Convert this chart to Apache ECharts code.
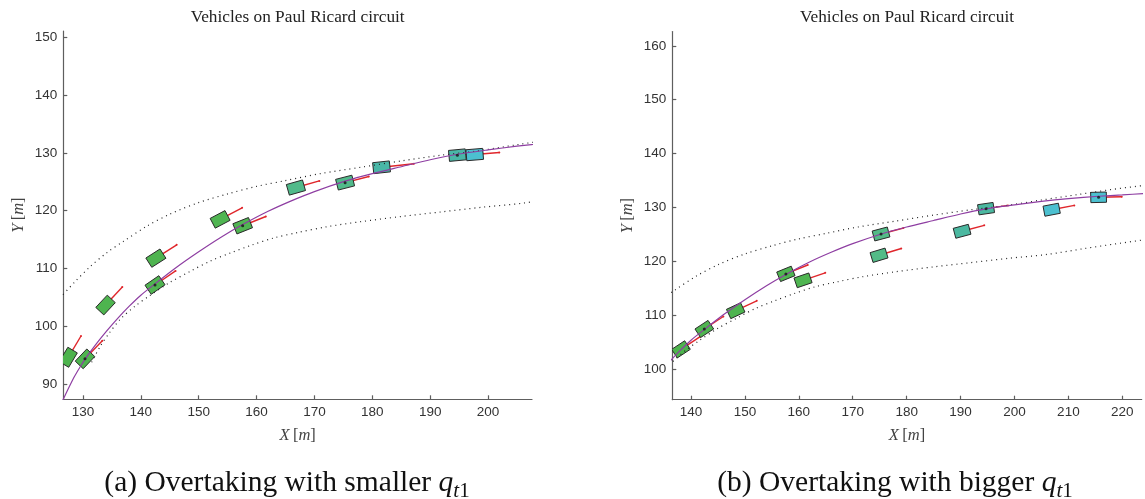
<!DOCTYPE html>
<html>
<head>
<meta charset="utf-8">
<script src="https://cdn.jsdelivr.net/npm/echarts@6/dist/echarts.min.js"></script>
<style>
  html, body { margin: 0; padding: 0; background: #ffffff; }
  #chart { width: 1145px; height: 499px; }
</style>
</head>
<body>
<div id="chart"></div>
<script>
// ---- Tick labels ----
const leftXTicks = [130, 140, 150, 160, 170, 180, 190, 200];
const leftYTicks = [90, 100, 110, 120, 130, 140, 150];
const rightXTicks = [140, 150, 160, 170, 180, 190, 200, 210, 220];
const rightYTicks = [100, 110, 120, 130, 140, 150, 160];

// ---- Circuit geometry [X, Y] in metres ----
const trackCenter = [
  [126.0, 86.0], [126.6, 87.4], [127.5, 89.3], [128.5, 91.3], [129.5, 93.0], [130.4, 94.4],
  [132, 96.6], [134, 99.1], [136, 101.4], [138, 103.5], [140, 105.4], [142.5, 107.4],
  [146, 110.1], [150, 112.9], [154, 115.5], [157.6, 117.6], [162, 119.9], [166, 121.7],
  [170, 123.3], [175.3, 125.1], [180, 126.4], [185, 127.6], [190, 128.8], [194.7, 129.75],
  [200, 130.5], [205, 131.15], [210, 131.65], [215.6, 132.1], [220, 132.35], [224, 132.6]
];
const trackOuter = [
  [126.0, 104.9], [128.5, 107.6], [131.2, 110.3], [134.2, 112.8], [137, 114.7], [141, 117.3],
  [145, 119.4], [150, 121.4], [155, 122.9], [160, 124.2], [165, 125.2], [171, 126.4],
  [178, 127.5], [185, 128.6], [192, 129.6], [198, 130.3], [205, 131.4], [212, 132.45],
  [218, 133.35], [224, 134.1]
];
const trackInner = [
  [131.5, 93.8], [133, 96.6], [134.5, 98.8], [136.5, 101.3], [139, 103.5], [141.5, 105.3],
  [145, 107.6], [148.5, 109.5], [152, 111.3], [155.5, 112.7], [159, 114.0], [163, 115.3],
  [167, 116.2], [172, 117.2], [178, 118.1], [185, 119.0], [192, 119.8], [199, 120.6],
  [206, 121.3], [213, 122.4], [219, 123.3], [224, 124.0]
];

// ---- Vehicle snapshots: [X, Y, velocity tip X, velocity tip Y, time step] ----
// (a) smaller q_t1
const leftOther = [
  [127.46, 94.67, 129.66, 98.35, 0],
  [133.9, 103.7, 136.8, 106.8, 1],
  [142.6, 111.8, 146.2, 114.1, 2],
  [153.7, 118.5, 157.5, 120.5, 3],
  [166.8, 124.0, 170.85, 125.15, 4],
  [181.6, 127.5, 187.2, 128.1, 5],
  [197.7, 129.7, 201.95, 130.05, 6]
];
const leftEgo = [
  [130.35, 94.4, 133.34, 97.54, 1],
  [142.45, 107.16, 146.0, 109.6, 2],
  [157.6, 117.4, 161.6, 119.0, 3],
  [175.3, 124.85, 179.4, 125.9, 4],
  [194.7, 129.6, 199.0, 130.0, 5]
];
// (b) bigger q_t1
const rightOther = [
  [138.14, 103.7, 141.7, 106.05, 0],
  [148.29, 110.87, 152.2, 112.7, 1],
  [160.78, 116.5, 164.9, 117.9, 2],
  [174.88, 121.15, 179.0, 122.4, 3],
  [190.28, 125.6, 194.4, 126.7, 4],
  [206.9, 129.6, 211.1, 130.4, 5]
];
const rightEgo = [
  [142.47, 107.48, 146.0, 109.8, 1],
  [157.6, 117.7, 161.65, 119.35, 2],
  [175.25, 125.1, 179.4, 126.2, 3],
  [194.73, 129.8, 198.8, 130.4, 4],
  [215.6, 131.9, 219.9, 132.0, 5]
];

// Vehicle footprint (m)
const CAR_LEN = 2.9;
const CAR_WID = 1.9;

// Time colour map: green -> teal -> cyan
const COLOR_STOPS = [
  [0.0, [77, 179, 77]],
  [0.5, [80, 181, 82]],
  [0.6, [83, 187, 135]],
  [0.7, [80, 186, 140]],
  [0.83, [73, 183, 166]],
  [1.0, [76, 192, 208]]
];
function timeColor(s) {
  s = Math.max(0, Math.min(1, s));
  for (let i = 1; i < COLOR_STOPS.length; i++) {
    const [s1, c1] = COLOR_STOPS[i];
    const [s0, c0] = COLOR_STOPS[i - 1];
    if (s <= s1) {
      const f = (s - s0) / (s1 - s0 || 1);
      const c = c0.map((v, k) => Math.round(v + (c1[k] - v) * f));
      return 'rgb(' + c.join(',') + ')';
    }
  }
  return 'rgb(76,192,208)';
}

function vehicleRenderer(tMax) {
  return function (params, api) {
    const cx = api.value(0), cy = api.value(1);
    const tx = api.value(2), ty = api.value(3);
    const ang = Math.atan2(ty - cy, tx - cx);
    const c = Math.cos(ang), s = Math.sin(ang);
    const hl = CAR_LEN / 2, hw = CAR_WID / 2;
    const pts = [[hl, hw], [hl, -hw], [-hl, -hw], [-hl, hw]].map(function (p) {
      return api.coord([cx + p[0] * c - p[1] * s, cy + p[0] * s + p[1] * c]);
    });
    return {
      type: 'polygon',
      shape: { points: pts },
      style: { fill: timeColor(api.value(4) / tMax), stroke: '#2a2a2a', lineWidth: 1 }
    };
  };
}

function velocityRenderer(params, api) {
  const p0 = api.coord([api.value(0), api.value(1)]);
  const p1 = api.coord([api.value(2), api.value(3)]);
  return {
    type: 'group',
    children: [
      { type: 'line', shape: { x1: p0[0], y1: p0[1], x2: p1[0], y2: p1[1] },
        style: { stroke: '#e0262b', lineWidth: 1.4 } },
      { type: 'circle', shape: { cx: p1[0], cy: p1[1], r: 1 }, style: { fill: '#e0262b' } }
    ]
  };
}

function chartSeries(idx, other, ego, tMax) {
  const all = other.concat(ego);
  return [
    { type: 'custom', xAxisIndex: idx, yAxisIndex: idx, z: 2, clip: true,
      renderItem: velocityRenderer, data: all },
    { type: 'custom', xAxisIndex: idx, yAxisIndex: idx, z: 3, clip: true,
      renderItem: vehicleRenderer(tMax), data: all },
    { type: 'line', xAxisIndex: idx, yAxisIndex: idx, z: 4, data: trackOuter, symbol: 'none',
      smooth: 0.3, clip: true, lineStyle: { color: '#222', width: 1.2, type: [1, 4] } },
    { type: 'line', xAxisIndex: idx, yAxisIndex: idx, z: 4, data: trackInner, symbol: 'none',
      smooth: 0.3, clip: true, lineStyle: { color: '#222', width: 1.2, type: [1, 4] } },
    { type: 'line', xAxisIndex: idx, yAxisIndex: idx, z: 5, data: trackCenter, symbol: 'none',
      smooth: 0.2, clip: true, lineStyle: { color: '#8e3ea2', width: 1.2 } },
    { type: 'scatter', xAxisIndex: idx, yAxisIndex: idx, z: 6, symbol: 'circle', symbolSize: 3,
      itemStyle: { color: '#111' }, data: ego.map(function (v) { return [v[0], v[1]]; }) }
  ];
}

const SERIF = '"Liberation Serif", "Times New Roman", serif';
const SANS = '"Liberation Sans", Arial, sans-serif';

function axisCommon(idx, min, max, ticks) {
  return {
    type: 'value', gridIndex: idx, min: min, max: max,
    axisLine: { show: true, lineStyle: { color: '#5e5e5e', width: 1.2 } },
    axisTick: { show: true, inside: true, length: 4, customValues: ticks,
      lineStyle: { color: '#5e5e5e', width: 1.2 } },
    axisLabel: { customValues: ticks, margin: 6, fontSize: 13.5, color: '#333', fontFamily: SANS },
    splitLine: { show: false }
  };
}

const LEFT_GRID = { left: 63.3, top: 31, width: 468.7, height: 368.3 };
const RIGHT_GRID = { left: 672.3, top: 31.5, width: 469.4, height: 368.2 };

const axisNameRich = {
  i: { fontFamily: SERIF, fontStyle: 'italic', fontSize: 16.5, fill: '#444' },
  u: { fontFamily: SERIF, fontSize: 16.5, fill: '#444' }
};

function axisNames(grid) {
  const cx = grid.left + grid.width / 2;
  const cy = grid.top + grid.height / 2;
  return [
    { type: 'text', x: cx, y: 17,
      style: { text: 'Vehicles on Paul Ricard circuit', align: 'center', verticalAlign: 'middle',
        fill: '#222', font: '17.3px ' + SERIF } },
    { type: 'text', x: cx, y: grid.top + grid.height + 36,
      style: { text: '{i|X} {u|[}{i|m}{u|]}', rich: axisNameRich, align: 'center', verticalAlign: 'middle' } },
    { type: 'text', x: grid.left - 45, y: cy, rotation: Math.PI / 2,
      style: { text: '{i|Y} {u|[}{i|m}{u|]}', rich: axisNameRich, align: 'center', verticalAlign: 'middle' } }
  ];
}

// Sub-figure caption: main text, italic q, then a lowered subscript "t1"
const measureCtx = document.createElement('canvas').getContext('2d');
function textWidth(str, font) { measureCtx.font = font; return measureCtx.measureText(str).width; }
function caption(cx, midY, lead) {
  const fMain = '29.5px ' + SERIF;
  const fQ = 'italic 29.5px ' + SERIF;
  const fT = 'italic 21px ' + SERIF;
  const fS = '21px ' + SERIF;
  const parts = [
    { t: lead, f: fMain, dy: 0 },
    { t: 'q', f: fQ, dy: 0 },
    { t: 't', f: fT, dy: 8.5 },
    { t: '1', f: fS, dy: 8.5 }
  ];
  const widths = parts.map(function (p) { return textWidth(p.t, p.f); });
  const total = widths.reduce(function (a, b) { return a + b; }, 0);
  let x = cx - total / 2;
  return parts.map(function (p, k) {
    const el = { type: 'text', x: x, y: midY + p.dy,
      style: { text: p.t, font: p.f, fill: '#111', align: 'left', verticalAlign: 'middle' } };
    x += widths[k];
    return el;
  });
}

const option = {
  animation: false,
  backgroundColor: '#ffffff',
  grid: [LEFT_GRID, RIGHT_GRID],
  xAxis: [axisCommon(0, 126.6, 207.6, leftXTicks), axisCommon(1, 136.53, 223.6, rightXTicks)],
  yAxis: [axisCommon(0, 87.41, 151.05, leftYTicks), axisCommon(1, 94.36, 162.66, rightYTicks)],
  series: chartSeries(0, leftOther, leftEgo, 6).concat(chartSeries(1, rightOther, rightEgo, 5)),
  graphic: axisNames(LEFT_GRID).concat(axisNames(RIGHT_GRID))
    .concat(caption(287, 483, '(a) Overtaking with smaller '))
    .concat(caption(895, 483, '(b) Overtaking with bigger '))
};

const chart = echarts.init(document.getElementById('chart'), null, { renderer: 'canvas' });
chart.setOption(option);
</script>
</body>
</html>
